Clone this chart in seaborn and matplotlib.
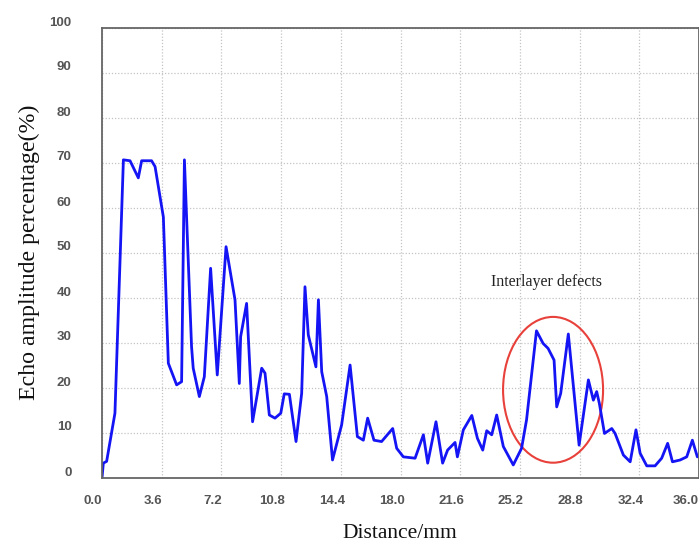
import matplotlib
matplotlib.use("Agg")
import matplotlib.pyplot as plt
import seaborn as sns
import numpy as np
import pandas as pd
from matplotlib.patches import Ellipse
from matplotlib.transforms import ScaledTranslation

# ---- data ----
distance = [0.0, 0.08, 0.28, 0.78, 1.29, 1.69, 2.19, 2.39, 2.99, 3.2, 3.7, 4.0, 4.5, 4.8,
            4.97, 5.1, 5.4, 5.5, 5.87, 6.17, 6.55, 6.95, 7.48, 8.02, 8.28, 8.36, 8.72,
            9.08, 9.63, 9.83, 10.09, 10.43, 10.78, 10.99, 11.3, 11.7, 12.04, 12.24,
            12.44, 12.9, 13.05, 13.25, 13.55, 13.9, 14.45, 14.96, 15.4, 15.76, 16.02,
            16.4, 16.86, 17.53, 17.77, 18.17, 18.88, 19.38, 19.64, 20.14, 20.54, 20.84,
            21.29, 21.43, 21.79, 22.3, 22.64, 22.96, 23.2, 23.5, 23.8, 24.2, 24.8, 25.3,
            25.6, 26.2, 26.6, 26.9, 27.26, 27.42, 27.66, 28.12, 28.77, 29.33, 29.63,
            29.83, 29.99, 30.3, 30.74, 30.94, 31.44, 31.85, 32.2, 32.45, 32.85, 33.35,
            33.75, 34.11, 34.4, 34.86, 35.26, 35.6, 35.9]
amplitude = [0.0, 3.3, 3.7, 14.4, 70.7, 70.5, 66.7, 70.5, 70.5, 69.2, 58.0, 25.5, 20.7, 21.4,
             70.7, 58.0, 29.2, 24.4, 18.1, 22.5, 46.6, 22.9, 51.4, 39.6, 21.0, 31.4, 38.8,
             12.5, 24.4, 23.3, 14.0, 13.3, 14.4, 18.7, 18.6, 8.1, 18.8, 42.5,
             31.8, 24.7, 39.6, 23.6, 18.1, 4.0, 11.8, 25.1, 9.2, 8.4, 13.3,
             8.4, 8.1, 11.0, 6.6, 4.7, 4.4, 9.6, 3.3, 12.5, 3.3, 6.2,
             7.9, 4.7, 10.7, 13.9, 8.8, 6.2, 10.5, 9.6, 14.0, 7.0, 2.9, 6.6,
             12.9, 32.7, 29.9, 28.8, 26.2, 15.8, 18.8, 32.0, 7.3, 21.8, 17.3,
             19.2, 16.6, 9.9, 11.0, 9.9, 5.1, 3.6, 10.7, 5.5, 2.7, 2.7,
             4.4, 7.7, 3.6, 4.0, 4.7, 8.4, 4.7]
x_ticks = [0.0, 3.6, 7.2, 10.8, 14.4, 18.0, 21.6, 25.2, 28.8, 32.4, 36.0]
x_tick_labels = ["0.0", "3.6", "7.2", "10.8", "14.4", "18.0", "21.6", "25.2", "28.8", "32.4", "36.0"]
y_ticks = [0, 10, 20, 30, 40, 50, 60, 70, 80, 90, 100]
annotation_text = "Interlayer defects"

df = pd.DataFrame({"Distance": distance, "Amplitude": amplitude})

sns.set_style("white")
plt.rcParams["font.family"] = ["Liberation Sans", "DejaVu Sans"]

fig = plt.figure(figsize=(6.99, 5.44), dpi=100)
ax = fig.add_axes([102 / 699, 66 / 544, 597 / 699, 450 / 544])

sns.lineplot(data=df, x="Distance", y="Amplitude", ax=ax, estimator=None, sort=False,
             color="#1414f5", linewidth=2.0)

ax.set_xlim(0, 36)
ax.set_ylim(0, 100)
ax.set_xticks(x_ticks)
ax.set_xticklabels(x_tick_labels)
ax.set_yticks(y_ticks)
ax.set_yticklabels([str(v) for v in y_ticks])

ax.grid(True, linestyle=(0, (1, 1.5)), color="#c4c4c4", linewidth=0.9)
for s in ax.spines.values():
    s.set_color("#666666")
    s.set_linewidth(1.3)

ax.tick_params(axis="both", direction="in", length=4, width=1, color="#666666",
               labelsize=9.5, labelcolor="#555555")
ax.tick_params(axis="x", pad=12)
ax.tick_params(axis="y", pad=22)
for lab in ax.get_xticklabels() + ax.get_yticklabels():
    lab.set_fontweight("bold")
xlabs = ax.get_xticklabels()
for i, lab in enumerate(xlabs):
    dx = -9 if i < len(xlabs) - 1 else -13
    lab.set_transform(lab.get_transform() + ScaledTranslation(dx / 100, 0, fig.dpi_scale_trans))
for lab in ax.get_yticklabels():
    lab.set_transform(lab.get_transform() + ScaledTranslation(0, 7 / 100, fig.dpi_scale_trans))

ax.set_xlabel("Distance/mm", fontsize=15.5, family=["Liberation Serif", "DejaVu Serif"], color="#111111")
ax.set_ylabel("Echo amplitude percentage(%)", fontsize=17.2, family=["Liberation Serif", "DejaVu Serif"], color="#111111")
ax.xaxis.set_label_coords((400 - 102) / 597, (478 - 533) / 450)
ax.xaxis.label.set_va("center")
ax.yaxis.set_label_coords((29 - 102) / 597, (478 - 252) / 450)
ax.yaxis.label.set_va("center")
ax.yaxis.label.set_ha("center")

ax.text(26.78, 43.6, annotation_text, ha="center", va="center", fontsize=11.5,
        family=["Liberation Serif", "DejaVu Serif"], color="#222222")
ax.add_patch(Ellipse((27.2, 19.6), width=6.03, height=32.4, fill=False,
                     edgecolor="#e8403a", linewidth=1.5))

fig.savefig("out.png", dpi=100)
